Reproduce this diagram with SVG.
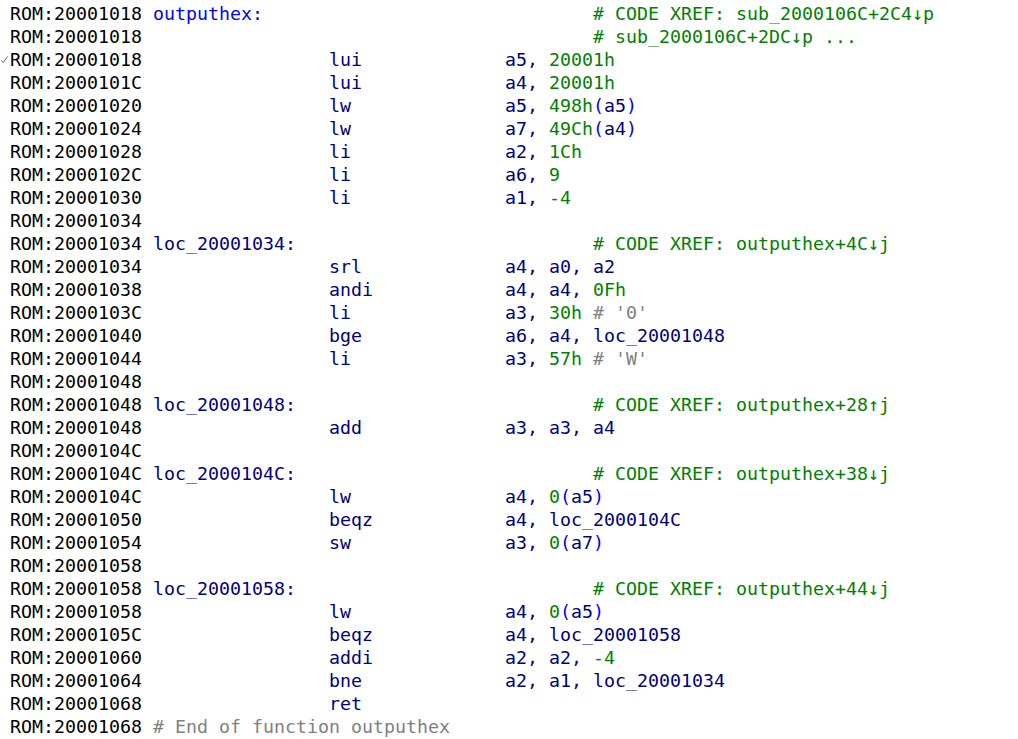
<svg xmlns="http://www.w3.org/2000/svg" width="1018" height="739" viewBox="0 0 1018 739">
<style>
text{font-family:"DejaVu Sans Mono","Liberation Mono",monospace;font-size:18.27px;white-space:pre}
.ad{fill:#000000}
.fn{fill:#0000ff}
.lb{fill:#000080}
.mn{fill:#000080}
.op{fill:#000080}
.n{fill:#008000}
.c{fill:#008000}
.g{fill:#808080}
.p{fill:#0000ff}
</style>
<rect width="1018" height="739" fill="#ffffff"/>
<g id="addresses" class="ad">
<text x="10" y="20">ROM:20001018</text>
<text x="10" y="43">ROM:20001018</text>
<text x="10" y="66">ROM:20001018</text>
<text x="10" y="89">ROM:2000101C</text>
<text x="10" y="112">ROM:20001020</text>
<text x="10" y="135">ROM:20001024</text>
<text x="10" y="158">ROM:20001028</text>
<text x="10" y="181">ROM:2000102C</text>
<text x="10" y="204">ROM:20001030</text>
<text x="10" y="227">ROM:20001034</text>
<text x="10" y="250">ROM:20001034</text>
<text x="10" y="273">ROM:20001034</text>
<text x="10" y="296">ROM:20001038</text>
<text x="10" y="319">ROM:2000103C</text>
<text x="10" y="342">ROM:20001040</text>
<text x="10" y="365">ROM:20001044</text>
<text x="10" y="388">ROM:20001048</text>
<text x="10" y="411">ROM:20001048</text>
<text x="10" y="434">ROM:20001048</text>
<text x="10" y="457">ROM:2000104C</text>
<text x="10" y="480">ROM:2000104C</text>
<text x="10" y="503">ROM:2000104C</text>
<text x="10" y="526">ROM:20001050</text>
<text x="10" y="549">ROM:20001054</text>
<text x="10" y="572">ROM:20001058</text>
<text x="10" y="595">ROM:20001058</text>
<text x="10" y="618">ROM:20001058</text>
<text x="10" y="641">ROM:2000105C</text>
<text x="10" y="664">ROM:20001060</text>
<text x="10" y="687">ROM:20001064</text>
<text x="10" y="710">ROM:20001068</text>
<text x="10" y="733">ROM:20001068</text>
</g>
<path id="tick" d="M1.5,60.5 L3.2,62.5 L7.5,56.5" fill="none" stroke="#606060" stroke-width="1"/>
<g id="labels">
<text x="153" y="20" class="fn">outputhex:</text>
<text x="153" y="250" class="lb">loc_20001034:</text>
<text x="153" y="411" class="lb">loc_20001048:</text>
<text x="153" y="480" class="lb">loc_2000104C:</text>
<text x="153" y="595" class="lb">loc_20001058:</text>
<text x="153" y="733" class="g"># End of function outputhex</text>
</g>
<g id="mnemonics" class="mn">
<text x="329" y="66">lui</text>
<text x="329" y="89">lui</text>
<text x="329" y="112">lw</text>
<text x="329" y="135">lw</text>
<text x="329" y="158">li</text>
<text x="329" y="181">li</text>
<text x="329" y="204">li</text>
<text x="329" y="273">srl</text>
<text x="329" y="296">andi</text>
<text x="329" y="319">li</text>
<text x="329" y="342">bge</text>
<text x="329" y="365">li</text>
<text x="329" y="434">add</text>
<text x="329" y="503">lw</text>
<text x="329" y="526">beqz</text>
<text x="329" y="549">sw</text>
<text x="329" y="618">lw</text>
<text x="329" y="641">beqz</text>
<text x="329" y="664">addi</text>
<text x="329" y="687">bne</text>
<text x="329" y="710">ret</text>
</g>
<g id="operands" class="op">
<text x="505" y="66">a5, <tspan class="n">20001h</tspan></text>
<text x="505" y="89">a4, <tspan class="n">20001h</tspan></text>
<text x="505" y="112">a5, <tspan class="n">498h</tspan><tspan class="p">(</tspan>a5<tspan class="p">)</tspan></text>
<text x="505" y="135">a7, <tspan class="n">49Ch</tspan><tspan class="p">(</tspan>a4<tspan class="p">)</tspan></text>
<text x="505" y="158">a2, <tspan class="n">1Ch</tspan></text>
<text x="505" y="181">a6, <tspan class="n">9</tspan></text>
<text x="505" y="204">a1, <tspan class="n">-4</tspan></text>
<text x="505" y="273">a4, a0, a2</text>
<text x="505" y="296">a4, a4, <tspan class="n">0Fh</tspan></text>
<text x="505" y="319">a3, <tspan class="n">30h</tspan><tspan class="g"> # '0'</tspan></text>
<text x="505" y="342">a6, a4, loc_20001048</text>
<text x="505" y="365">a3, <tspan class="n">57h</tspan><tspan class="g"> # 'W'</tspan></text>
<text x="505" y="434">a3, a3, a4</text>
<text x="505" y="503">a4, <tspan class="n">0</tspan><tspan class="p">(</tspan>a5<tspan class="p">)</tspan></text>
<text x="505" y="526">a4, loc_2000104C</text>
<text x="505" y="549">a3, <tspan class="n">0</tspan><tspan class="p">(</tspan>a7<tspan class="p">)</tspan></text>
<text x="505" y="618">a4, <tspan class="n">0</tspan><tspan class="p">(</tspan>a5<tspan class="p">)</tspan></text>
<text x="505" y="641">a4, loc_20001058</text>
<text x="505" y="664">a2, a2, <tspan class="n">-4</tspan></text>
<text x="505" y="687">a2, a1, loc_20001034</text>
</g>
<g id="comments" class="c">
<text x="593" y="20"># CODE XREF: sub_2000106C+2C4↓p</text>
<text x="593" y="43"># sub_2000106C+2DC↓p ...</text>
<text x="593" y="250"># CODE XREF: outputhex+4C↓j</text>
<text x="593" y="411"># CODE XREF: outputhex+28↑j</text>
<text x="593" y="480"># CODE XREF: outputhex+38↓j</text>
<text x="593" y="595"># CODE XREF: outputhex+44↓j</text>
</g>
</svg>
